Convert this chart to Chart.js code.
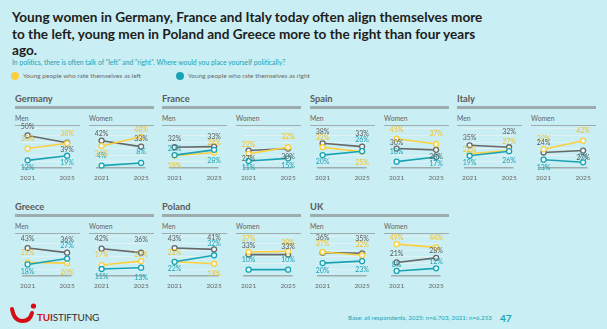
<!DOCTYPE html>
<html>
<head>
<meta charset="utf-8">
<script src="https://cdn.jsdelivr.net/npm/chart.js@4.4.1/dist/chart.umd.min.js"></script>
<style>
  html, body { margin: 0; padding: 0; }
  body { width: 607px; height: 329px; background: #c9eef3; position: relative; overflow: hidden; font-family: Lato, "Open Sans", sans-serif; }
  .abs { position: absolute; white-space: nowrap; }
  #title { left: 12px; top: 9px; font-size: 13.6px; line-height: 16.5px; font-weight: 700; color: #1d1d1d; }
  #subtitle { left: 12px; top: 58px; font-size: 6.8px; line-height: 8px; color: #1ba3b6; }
  .legend-dot { width: 8px; height: 8px; border-radius: 50%; }
  .legend-txt { font-size: 6.5px; line-height: 8px; color: #6d6d6d; }
  .country { font-size: 9.3px; line-height: 11px; font-weight: 700; color: #5b5b5b; }
  .rule { height: 2.5px; background: #9eacae; }
  .sex { font-size: 6.8px; line-height: 8px; color: #666; }
  .subrule { height: 1.5px; background: #9eacae; }
  #base { left: 348px; top: 314px; font-size: 6.2px; line-height: 8px; color: #1ba3b6; }
  #page { left: 500px; top: 312px; font-size: 10px; line-height: 12px; font-weight: 700; color: #1ba3b6; }
  #brand { left: 37px; top: 311px; font-size: 10px; line-height: 12px; letter-spacing: -0.2px; color: #333; }
  #brand b { color: #d40e14; }
</style>
</head>
<body>
<div id="title" class="abs">Young women in Germany, France and Italy today often align themselves more<br>to the left, young men in Poland and Greece more to the right than four years<br>ago.</div>
<div id="subtitle" class="abs">In politics, there is often talk of "left" and "right". Where would you place yourself politically?</div>
<div class="abs legend-dot" style="left:11px;top:72px;background:#fbcf3d"></div>
<div class="abs legend-txt" style="left:23px;top:72px">Young people who rate themselves as left</div>
<div class="abs legend-dot" style="left:176px;top:72px;background:#18a3b5"></div>
<div class="abs legend-txt" style="left:188px;top:72px">Young people who rate themselves as right</div>

<svg class="abs" style="left:9px;top:302px" width="28" height="22" viewBox="0 0 28 22">
  <path d="M3 7 Q 5 19 13.5 19 Q 21 19 23 11" fill="none" stroke="#d40e14" stroke-width="4" stroke-linecap="round"/>
  <circle cx="24.5" cy="4" r="2.6" fill="#d40e14"/>
</svg>
<div id="brand" class="abs"><b>TUI</b>STIFTUNG</div>
<div id="base" class="abs">Base: all respondents, 2025: n=6.703, 2021: n=6.253</div>
<div id="page" class="abs">47</div>

<script>
// Survey years and countries
const years = [2021, 2025];
const countries = ['Germany', 'France', 'Spain', 'Italy', 'Greece', 'Poland', 'UK'];
const sexes = ['Men', 'Women'];

// Share (%) of young people placing themselves on the left
const leftMen   = [[30, 38], [19, 24], [32, 25], [22, 27], [21, 20], [22, 19], [37, 32]];
const leftWomen = [[34, 48], [22, 32], [45, 37], [29, 42], [17, 23], [37, 38], [49, 44]];
// Share (%) placing themselves on the right
const rightMen   = [[12, 19], [20, 28], [20, 26], [19, 26], [18, 27], [22, 32], [20, 23]];
const rightWomen = [[4, 8], [11, 15], [10, 17], [13, 9], [11, 13], [10, 10], [8, 12]];
// Share (%) placing themselves in the centre
const centreMen   = [[50, 39], [32, 33], [38, 33], [35, 32], [43, 36], [43, 41], [36, 35]];
const centreWomen = [[42, 33], [27, 30], [30, 28], [24, 27], [42, 36], [33, 33], [21, 28]];

// Vertical nudges (px) for the value labels, negative = above the point
const nudgeLeft = {
  Men:   [[-10, -10], [10, -10], [-10, 11], [-4, -9], [-10, 10], [-9, 10], [-8, -11]],
  Women: [[8, -7], [-9, -11], [-9, -10], [-10, -10], [-10, -6], [-13, -9], [-6, -10]]
};
const nudgeRight = {
  Men:   [[7, 7], [-6, 11], [7, -11], [7, 10], [7, -13], [7, -12], [8, 9]],
  Women: [[-10, -11], [7, 7], [-10, 7], [8, -6], [8, 10], [-10, -10], [-6, -7]]
};
const nudgeCentre = {
  Men:   [[-9, 7], [-9, -10], [-12, -13], [-8, -16], [-9, -13], [-9, -12], [-15, -15]],
  Women: [[-7, -8], [8, 8], [-6, 7], [-10, 7], [-10, -13], [-9, -8], [-9, -7]]
};

const COLORS = {
  left:   { line: '#fbcf3d', text: '#f2c12c' },
  right:  { line: '#18a3b5', text: '#1b9fb1' },
  centre: { line: '#676767', text: '#5a5a5a' }
};

// Grid of country blocks
const colX = [15, 162, 310, 457];
const rowY = [0, 108];
const panelW = 65, panelGap = 74, plotH = 49, padTop = 7;

// Draws "NN%" next to each point
const valueLabels = {
  id: 'valueLabels',
  afterDatasetsDraw(chart) {
    const ctx = chart.ctx;
    chart.data.datasets.forEach((ds, i) => {
      const meta = chart.getDatasetMeta(i);
      meta.data.forEach((pt, j) => {
        ctx.save();
        ctx.font = '7px Lato';
        ctx.fillStyle = ds.labelColor;
        ctx.textAlign = 'center';
        ctx.textBaseline = 'middle';
        ctx.fillText(ds.data[j].y + '%', pt.x, pt.y + ds.nudges[j]);
        ctx.restore();
      });
    });
  }
};

function addDiv(cls, left, top, html, style) {
  const d = document.createElement('div');
  d.className = 'abs ' + cls;
  d.style.left = left + 'px';
  d.style.top = top + 'px';
  if (style) Object.assign(d.style, style);
  if (html) d.innerHTML = html;
  document.body.appendChild(d);
  return d;
}

function series(vals, nudges, key, order) {
  return {
    data: years.map((y, i) => ({ x: y, y: vals[i] })),
    borderColor: COLORS[key].line,
    borderWidth: 1.6,
    pointRadius: 2.5,
    pointBorderWidth: 1.3,
    pointBackgroundColor: '#eef9fb',
    pointBorderColor: COLORS[key].line,
    labelColor: COLORS[key].text,
    nudges: nudges,
    order: order,
    clip: false
  };
}

countries.forEach((name, c) => {
  const bx = colX[c < 4 ? c : c - 4];
  const by = rowY[c < 4 ? 0 : 1];
  addDiv('country', bx, by + 93, name);
  addDiv('rule', bx, by + 106, '', { width: (panelW + panelGap) + 'px' });

  sexes.forEach((sex, s) => {
    const px = bx + s * panelGap;
    addDiv('sex', px, by + 114, sex);
    addDiv('subrule', px, by + 124.5, '', { width: panelW + 'px' });

    const left = sex === 'Men' ? leftMen : leftWomen;
    const right = sex === 'Men' ? rightMen : rightWomen;
    const centre = sex === 'Men' ? centreMen : centreWomen;

    const canvas = document.createElement('canvas');
    canvas.width = panelW;
    canvas.height = padTop + plotH + 14;
    canvas.className = 'abs';
    canvas.style.left = px + 'px';
    canvas.style.top = (by + 125 - padTop) + 'px';
    document.body.appendChild(canvas);

    new Chart(canvas, {
      type: 'line',
      data: {
        datasets: [
          series(right[c], nudgeRight[sex][c], 'right', 1),
          series(left[c], nudgeLeft[sex][c], 'left', 2),
          series(centre[c], nudgeCentre[sex][c], 'centre', 3)
        ]
      },
      options: {
        responsive: false,
        animation: false,
        devicePixelRatio: 1,
        layout: { padding: { top: padTop, left: 0, right: 0, bottom: 0 }, autoPadding: false },
        plugins: { legend: { display: false }, tooltip: { enabled: false } },
        scales: {
          x: {
            type: 'linear',
            min: 2020.45,
            max: 2025.45,
            grid: { display: false, drawTicks: false },
            border: { display: false },
            afterBuildTicks: a => { a.ticks = years.map(v => ({ value: v })); },
            ticks: {
              autoSkip: false, maxRotation: 0, padding: 6,
              font: { family: 'Lato', size: 6.5 }, color: '#666',
              callback: v => String(v)
            }
          },
          y: {
            min: 0,
            max: 66,
            afterBuildTicks: a => { a.ticks = [0, 10, 20, 30, 40, 50, 60].map(v => ({ value: v })); },
            ticks: { display: false },
            border: { display: false },
            grid: {
              drawTicks: false,
              color: ctx => ctx.tick.value === 0 ? '#9eacae' : '#e0f2f5',
              lineWidth: ctx => ctx.tick.value === 0 ? 1.5 : 1
            }
          }
        }
      },
      plugins: [valueLabels]
    });
  });
});
</script>
</body>
</html>
